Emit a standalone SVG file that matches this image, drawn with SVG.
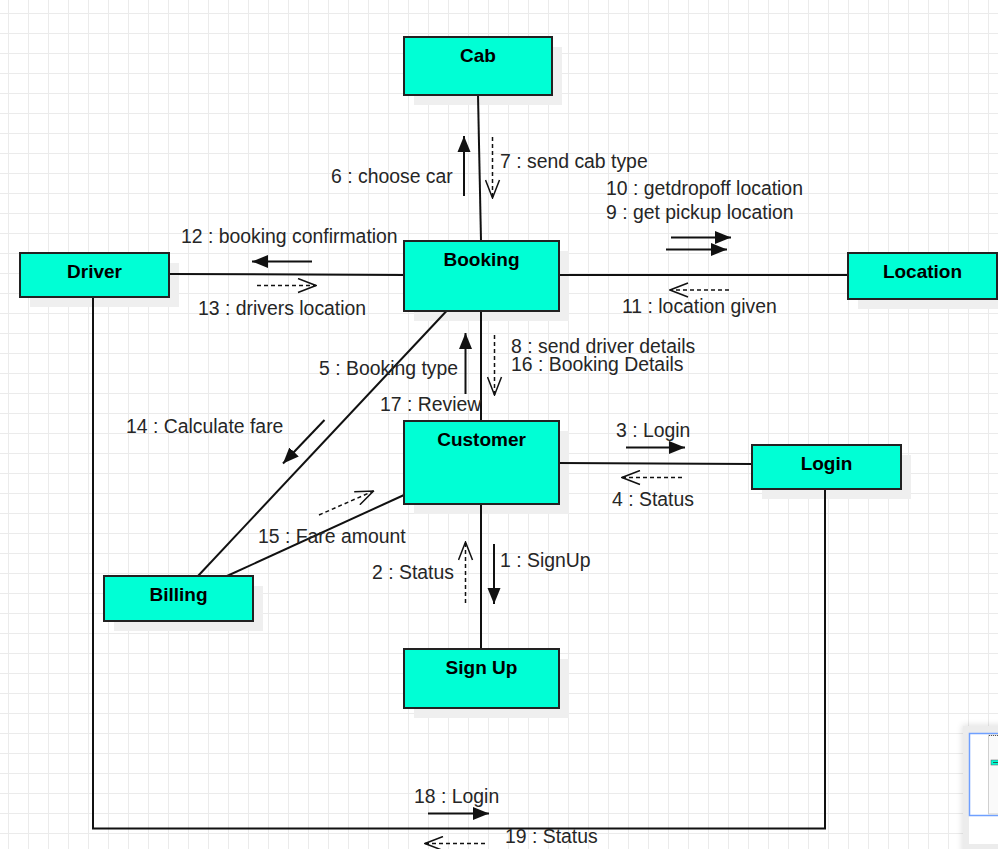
<svg xmlns="http://www.w3.org/2000/svg" width="998" height="849" viewBox="0 0 998 849">
  <defs>
    <pattern id="grid" x="8" y="13" width="20" height="20" patternUnits="userSpaceOnUse">
      <path d="M0,0.5 H20 M0.5,0 V20" fill="none" stroke="#ebebeb" stroke-width="1"/>
    </pattern>
    <marker id="block" viewBox="0 0 16 14" refX="16" refY="7" markerWidth="16" markerHeight="14" markerUnits="userSpaceOnUse" orient="auto">
      <path d="M0,0.5 L16,7 L0,13.5 z" fill="#111"/>
    </marker>
    <marker id="open" viewBox="0 0 20 16" refX="19" refY="8" markerWidth="20" markerHeight="16" markerUnits="userSpaceOnUse" orient="auto">
      <path d="M1,1 L19,8 L1,15" fill="none" stroke="#111" stroke-width="1.5"/>
    </marker>
    <filter id="panelShadow" x="-50%" y="-20%" width="200%" height="140%">
      <feGaussianBlur stdDeviation="3"/>
    </filter>
    <style>
      .shadow { fill: #efefef; }
      .box { fill: #00ffd5; stroke: #222; stroke-width: 2; }
      .name { font-family: "Liberation Sans", Arial, sans-serif; font-size: 19px; font-weight: bold; fill: #000; text-anchor: middle; }
      .lbl { font-family: "Liberation Sans", Arial, sans-serif; font-size: 19.4px; fill: #262626; }
      .link { fill: none; stroke: #111; stroke-width: 2; }
      .msg { fill: none; stroke: #111; stroke-width: 2; marker-end: url(#block); }
      .ret { fill: none; stroke: #111; stroke-width: 1.5; stroke-dasharray: 4 3; marker-end: url(#open); }
    </style>
  </defs>

  <!-- canvas background grid -->
  <rect width="998" height="849" fill="#fff"/>
  <rect width="998" height="849" fill="url(#grid)"/>

  <!-- soft drop shadows under the objects -->
  <g id="shadows">
    <rect class="shadow" x="414" y="47" width="148" height="58"/>
    <rect class="shadow" x="414" y="251" width="155" height="70"/>
    <rect class="shadow" x="30" y="263" width="149" height="44"/>
    <rect class="shadow" x="858" y="263" width="149" height="46"/>
    <rect class="shadow" x="414" y="431" width="155" height="83"/>
    <rect class="shadow" x="762" y="455" width="149" height="44"/>
    <rect class="shadow" x="114" y="586" width="149" height="45"/>
    <rect class="shadow" x="414" y="659" width="155" height="59"/>
  </g>

  <!-- associations and messages -->
  <g id="connectors">
    <path class="link" d="M478,95 L481,241"/>
    <path class="link" d="M169,274 L404,275"/>
    <path class="link" d="M559,275 H848"/>
    <path class="link" d="M481,311 V421"/>
    <path class="link" d="M446.5,311 L198,576"/>
    <path class="link" d="M404,495 L227,576"/>
    <path class="link" d="M559,463 L752,464"/>
    <path class="link" d="M481,504 V649"/>
    <path class="link" d="M93,297 V828.5 H825 V489"/>

    <!-- Cab / Booking -->
    <path class="msg" d="M464,196 V136"/>
    <path class="ret" d="M492.5,137 V198"/>
    <!-- Driver / Booking -->
    <path class="msg" d="M312,261.5 H252"/>
    <path class="ret" d="M257,285.5 H316"/>
    <!-- Booking / Location -->
    <path class="msg" d="M671,237.5 H731"/>
    <path class="msg" d="M666,249.5 H727"/>
    <path class="ret" d="M729,290 H670"/>
    <!-- Booking / Customer -->
    <path class="msg" d="M465.5,394 V333"/>
    <path class="ret" d="M494.5,335 V395"/>
    <!-- Booking / Billing -->
    <path class="msg" d="M324.5,420 L283,463.5"/>
    <!-- Billing / Customer -->
    <path class="ret" d="M319,515 L373.5,491"/>
    <!-- Customer / Login -->
    <path class="msg" d="M626,447.5 H685"/>
    <path class="ret" d="M682,477.5 H622"/>
    <!-- Customer / Sign Up -->
    <path class="msg" d="M494,544 V604"/>
    <path class="ret" d="M465.5,603 V542"/>
    <!-- Driver / Login -->
    <path class="msg" d="M428,813.5 H489"/>
    <path class="ret" d="M485,843.5 H425"/>

    <text class="lbl" x="331" y="183">6 : choose car</text>
    <text class="lbl" x="500" y="168">7 : send cab type</text>
    <text class="lbl" x="606" y="195">10 : getdropoff location</text>
    <text class="lbl" x="606" y="219">9 : get pickup location</text>
    <text class="lbl" x="622" y="313">11 : location given</text>
    <text class="lbl" x="181" y="243">12 : booking confirmation</text>
    <text class="lbl" x="198" y="315">13 : drivers location</text>
    <text class="lbl" x="319" y="375">5 : Booking type</text>
    <text class="lbl" x="380" y="411">17 : Review</text>
    <text class="lbl" x="126" y="433">14 : Calculate fare</text>
    <text class="lbl" x="258" y="543">15 : Fare amount</text>
    <text class="lbl" x="372" y="579">2 : Status</text>
    <text class="lbl" x="511" y="352.5">8 : send driver details</text>
    <text class="lbl" x="511" y="371">16 : Booking Details</text>
    <text class="lbl" x="616" y="437">3 : Login</text>
    <text class="lbl" x="612" y="506">4 : Status</text>
    <text class="lbl" x="500" y="567">1 : SignUp</text>
    <text class="lbl" x="414" y="803">18 : Login</text>
    <text class="lbl" x="505" y="843">19 : Status</text>
  </g>

  <!-- objects -->
  <g id="cab">
    <rect class="box" x="404" y="37" width="148" height="58"/>
    <text class="name" x="478" y="62">Cab</text>
  </g>
  <g id="booking">
    <rect class="box" x="404" y="241" width="155" height="70"/>
    <text class="name" x="481.5" y="266">Booking</text>
  </g>
  <g id="driver">
    <rect class="box" x="20" y="253" width="149" height="44"/>
    <text class="name" x="94.5" y="278">Driver</text>
  </g>
  <g id="location">
    <rect class="box" x="848" y="253" width="149" height="46"/>
    <text class="name" x="922.5" y="278">Location</text>
  </g>
  <g id="customer">
    <rect class="box" x="404" y="421" width="155" height="83"/>
    <text class="name" x="481.5" y="446">Customer</text>
  </g>
  <g id="login">
    <rect class="box" x="752" y="445" width="149" height="44"/>
    <text class="name" x="826.5" y="470">Login</text>
  </g>
  <g id="billing">
    <rect class="box" x="104" y="576" width="149" height="45"/>
    <text class="name" x="178.5" y="601">Billing</text>
  </g>
  <g id="signup">
    <rect class="box" x="404" y="649" width="155" height="59"/>
    <text class="name" x="481.5" y="674">Sign Up</text>
  </g>

  <!-- outline panel in the lower right corner -->
  <g id="outline-panel">
    <rect x="962" y="725" width="50" height="130" fill="#000" opacity="0.12" filter="url(#panelShadow)"/>
    <rect x="963" y="726" width="40" height="130" fill="#ececec"/>
    <rect x="969" y="733" width="35" height="111" fill="#fff"/>
    <rect x="969.5" y="733.5" width="40" height="82" fill="none" stroke="#6fa0ff" stroke-width="1.5"/>
    <rect x="988.5" y="735" width="12" height="79" fill="#fafafa" stroke="#d0d0d0" stroke-width="1"/>
    <path d="M989,735.5 H998" stroke="#555" stroke-width="1" stroke-dasharray="1 1"/>
    <rect x="991" y="760" width="8" height="5" fill="#00ffd5" stroke="#555" stroke-width="0.5"/>
    <path d="M993,762.5 H998" stroke="#333" stroke-width="0.8"/>
  </g>
</svg>
